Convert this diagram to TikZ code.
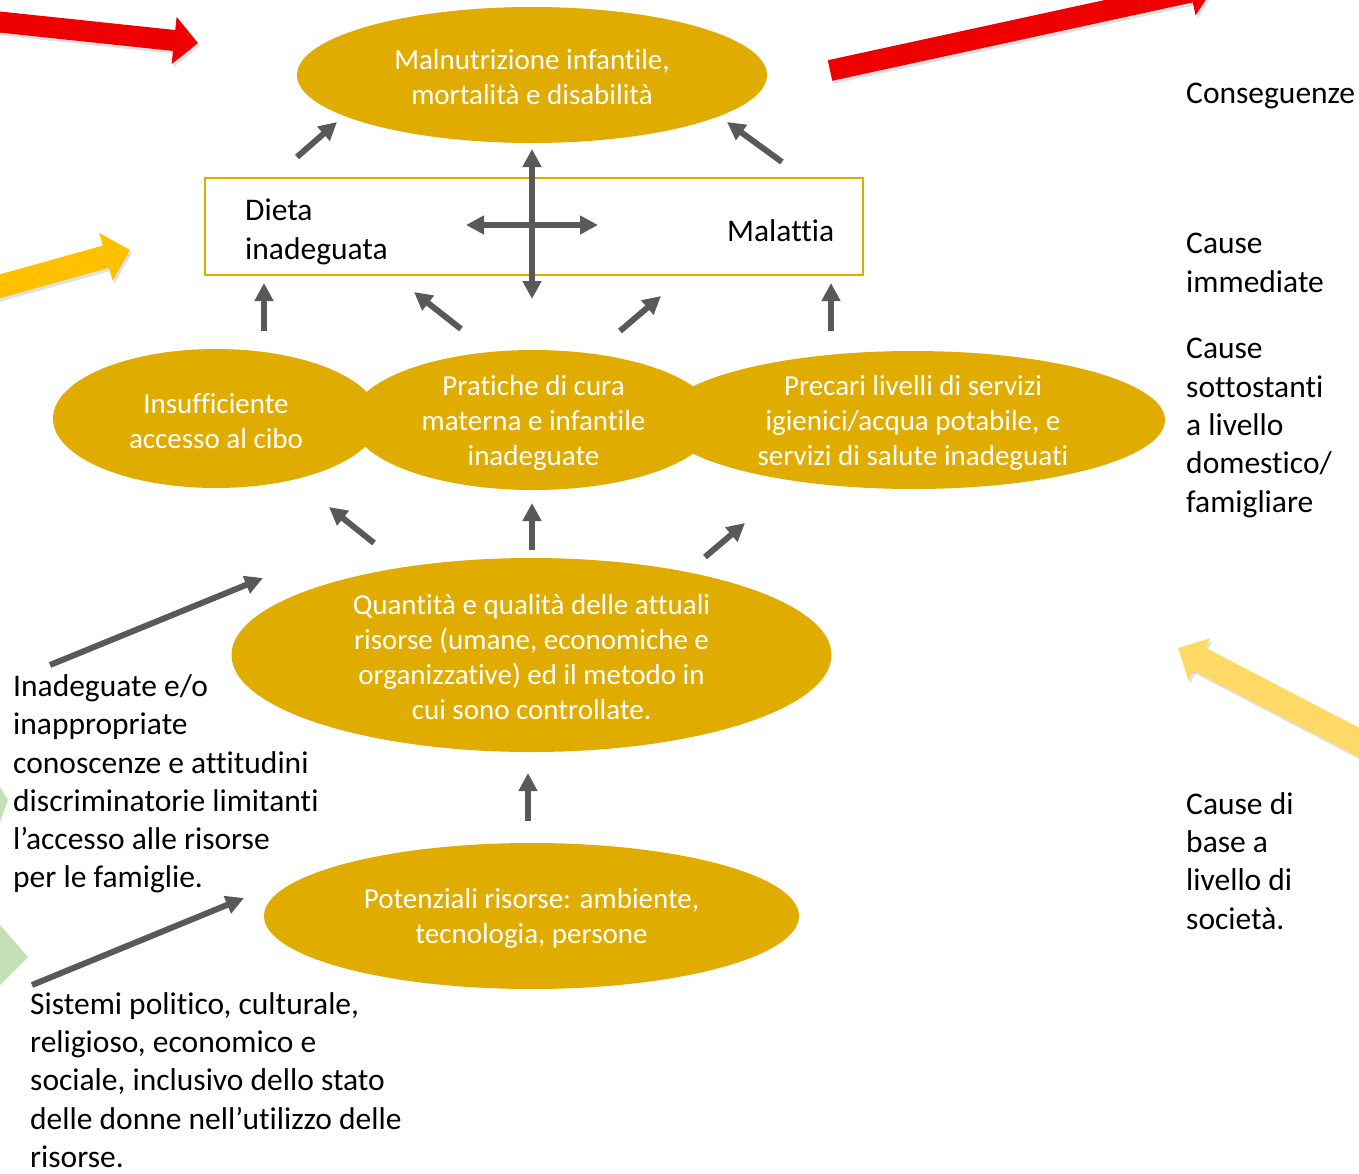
\documentclass[tikz,border=0pt]{standalone}
\usepackage{fontspec}
\setmainfont{Carlito}[Ligatures=NoCommon]
\usetikzlibrary{arrows.meta, shapes.geometric, positioning}

\definecolor{gold}{HTML}{E0AC00}
\definecolor{darkgrey}{HTML}{595959}
\definecolor{bigred}{HTML}{EE0000}
\definecolor{amber}{HTML}{FFC000}
\definecolor{paleamber}{HTML}{FFD966}
\definecolor{palegreen}{HTML}{C5E0B4}

\begin{document}
\begin{tikzpicture}[
    x=1pt, y=-1pt,
    blob/.style={ellipse, fill=gold, inner sep=0pt},
    blobtext/.style={text=white, inner sep=0pt, align=center, yshift=-2.5pt, font=\fontsize{29}{35}\selectfont},
    sidetext/.style={anchor=west, inner sep=0pt, align=left, font=\fontsize{31.5}{38.3}\selectfont},
    link/.style={draw=darkgrey, line width=6pt, -{Triangle[length=18pt, width=18pt]}},
    twoway/.style={draw=darkgrey, line width=6pt, {Triangle[length=18pt, width=18pt]}-{Triangle[length=18pt, width=18pt]}},
    fat/.style={line width=#1, line cap=butt},
    shade/.style={draw=black, opacity=0.12}
]
\useasboundingbox (0,0) rectangle (1359,1173);

% big coloured arrows at the edges
\begin{scope}
    \clip (0,0) rectangle (1359,1173);
    \coordinate (r1s) at (-10,21);   \coordinate (r1t) at (198,43);
    \coordinate (r2s) at (830,70.5); \coordinate (r2t) at (1214,-13);
    \coordinate (y1s) at (-10,289);  \coordinate (y1t) at (130,250);
    \coordinate (y2s) at (1385,756); \coordinate (y2t) at (1178,648);
    \draw[shade, fat=21pt, -{Triangle[length=24pt, width=46pt]}, transform canvas={shift={(2pt,-3pt)}}] (r1s) -- (r1t);
    \draw[shade, fat=21pt, -{Triangle[length=24pt, width=46pt]}, transform canvas={shift={(2pt,-3pt)}}] (r2s) -- (r2t);
    \draw[shade, fat=23pt, -{Triangle[length=25pt, width=48pt]}, transform canvas={shift={(2pt,-3pt)}}] (y1s) -- (y1t);
    \draw[shade, fat=26pt, -{Triangle[length=24pt, width=46pt]}, transform canvas={shift={(2pt,-3pt)}}] (y2s) -- (y2t);
    \draw[bigred, fat=21pt, -{Triangle[length=24pt, width=46pt]}] (r1s) -- (r1t);
    \draw[bigred, fat=21pt, -{Triangle[length=24pt, width=46pt]}] (r2s) -- (r2t);
    \draw[amber, fat=23pt, -{Triangle[length=25pt, width=48pt]}] (y1s) -- (y1t);
    \draw[paleamber, fat=26pt, -{Triangle[length=24pt, width=46pt]}] (y2s) -- (y2t);
    \fill[palegreen] (0,787) -- (8,800) -- (0,822) -- cycle;
    \fill[palegreen] (0,925) -- (28,957) -- (0,985) -- cycle;
\end{scope}

% outcome
\node[blob, minimum width=470, minimum height=136] (outcome) at (532,75) {};
\node[blobtext] (outcome-t) at (outcome) {Malnutrizione infantile,\\mortalità e disabilità};

% immediate causes
\node[draw=gold, line width=2.5pt, minimum width=658, minimum height=97, inner sep=0pt] (box) at (534,226.5) {};
\node[sidetext] (diet) at (245,232) {Dieta\\inadeguata};
\node[sidetext] (illness) at (727,231) {Malattia};

% underlying causes
\node[blob, minimum width=326, minimum height=139] (food) at (216,418.5) {};
\node[blob, minimum width=364, minimum height=140] (care) at (533.5,420) {};
\node[blob, minimum width=504, minimum height=138] (hygiene) at (913,420) {};
\node[blobtext] (food-t) at (food) {Insufficiente\\accesso al cibo};
\node[blobtext] (care-t) at (care) {Pratiche di cura\\materna e infantile\\inadeguate};
\node[blobtext] (hygiene-t) at (hygiene) {Precari livelli di servizi\\igienici/acqua potabile, e\\servizi di salute inadeguati};

% basic causes
\node[blob, minimum width=600, minimum height=194] (resources) at (531.5,655) {};
\node[blobtext] (resources-t) at (resources) {Quantità e qualità delle attuali\\risorse (umane, economiche e\\organizzative) ed il metodo in\\cui sono controllate.};
\node[blob, minimum width=535, minimum height=146] (potential) at (531.5,916) {};
\node[blobtext] (potential-t) at (potential) {Potenziali risorse: ambiente,\\tecnologia, persone};

% texts on the left
\node[sidetext] (knowledge) at (13,784) {Inadeguate e/o\\inappropriate\\conoscenze e attitudini\\discriminatorie limitanti\\l’accesso alle risorse\\per le famiglie.};
\node[sidetext] (systems) at (30,1080) {Sistemi politico, culturale,\\religioso, economico e\\sociale, inclusivo dello stato\\delle donne nell’utilizzo delle\\risorse.};

% levels on the right
\node[sidetext] (lev1) at (1186,96) {Conseguenze};
\node[sidetext] (lev2) at (1186,263) {Cause\\immediate};
\node[sidetext] (lev3) at (1186,428) {Cause\\sottostanti\\a livello\\domestico/\\famigliare};
\node[sidetext] (lev4) at (1186,861) {Cause di\\base a\\livello di\\società.};

% grey arrows
\coordinate (a1s) at (297,157);  \coordinate (a1t) at (337,122);
\coordinate (a2s) at (782,162);  \coordinate (a2t) at (727,122);
\coordinate (a3s) at (264,331);  \coordinate (a3t) at (264,283);
\coordinate (a4s) at (461,329);  \coordinate (a4t) at (414,292);
\coordinate (a5s) at (620,331);  \coordinate (a5t) at (661,296);
\coordinate (a6s) at (831,331);  \coordinate (a6t) at (831,283);
\coordinate (vs) at (532,299);   \coordinate (vt) at (532,149);
\coordinate (hs) at (466,225);   \coordinate (ht) at (598,225);
\coordinate (a7s) at (374,543);  \coordinate (a7t) at (329,507);
\coordinate (a8s) at (532,550);  \coordinate (a8t) at (532,503);
\coordinate (a9s) at (705,557);  \coordinate (a9t) at (745,523);
\coordinate (a10s) at (528,821); \coordinate (a10t) at (528,773);
\coordinate (a11s) at (50,665);  \coordinate (a11t) at (263,578);
\coordinate (a12s) at (32,985);  \coordinate (a12t) at (244,898);

\draw[link] (a1s) -- (a1t);
\draw[link] (a2s) -- (a2t);
\draw[link] (a3s) -- (a3t);
\draw[link] (a4s) -- (a4t);
\draw[link] (a5s) -- (a5t);
\draw[link] (a6s) -- (a6t);
\draw[twoway] (vs) -- (vt);
\draw[twoway] (hs) -- (ht);
\draw[link] (a7s) -- (a7t);
\draw[link] (a8s) -- (a8t);
\draw[link] (a9s) -- (a9t);
\draw[link] (a10s) -- (a10t);
\draw[link] (a11s) -- (a11t);
\draw[link] (a12s) -- (a12t);
\end{tikzpicture}
\end{document}
